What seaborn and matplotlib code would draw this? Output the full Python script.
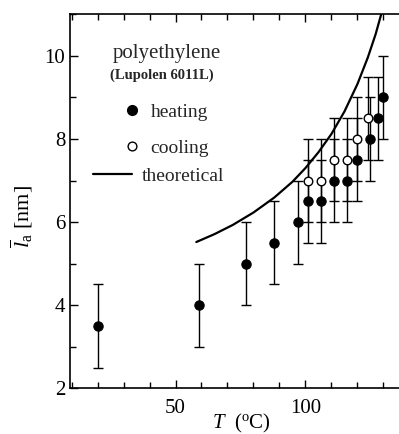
import matplotlib
matplotlib.use("Agg")
import matplotlib.pyplot as plt
import seaborn as sns
import pandas as pd
from matplotlib.lines import Line2D
from matplotlib.ticker import MultipleLocator

# Amorphous layer thickness of polyethylene vs temperature
heat_T = [20, 59, 77, 88, 97, 101, 106, 111, 116, 120, 125, 128, 130]
heat_l = [3.5, 4.0, 5.0, 5.5, 6.0, 6.5, 6.5, 7.0, 7.0, 7.5, 8.0, 8.5, 9.0]
cool_T = [101, 106, 111, 116, 120, 124]
cool_l = [7.0, 7.0, 7.5, 7.5, 8.0, 8.5]
err = 1.0

theo_T = [58, 65, 72, 80, 88, 95, 100, 105, 110, 115, 120, 124, 127, 130]
theo_l = [5.52, 5.71, 5.93, 6.23, 6.59, 6.97, 7.30, 7.68, 8.12, 8.66, 9.32, 9.96, 10.52, 11.19]

sns.set_theme(style="ticks")
plt.rcParams["font.family"] = ["Liberation Serif", "DejaVu Serif"]
plt.rcParams["mathtext.fontset"] = "custom"
plt.rcParams["mathtext.rm"] = "Liberation Serif"
plt.rcParams["mathtext.it"] = "Liberation Serif:italic"

heat = pd.DataFrame({"T": heat_T, "l": heat_l})
cool = pd.DataFrame({"T": cool_T, "l": cool_l})
theo = pd.DataFrame({"T": theo_T, "l": theo_l})

fig = plt.figure(figsize=(3.99, 4.34), dpi=100)
ax = fig.add_axes([70 / 399, 1 - 388.3 / 434, 329 / 399, (388.3 - 14.3) / 434])

bar_kw = dict(fmt="none", ecolor="black", elinewidth=1.0, capsize=3.5, capthick=1.0)
ax.errorbar(heat["T"], heat["l"], yerr=err, zorder=2, **bar_kw)
ax.errorbar(cool["T"], cool["l"], yerr=err, zorder=2, **bar_kw)

sns.lineplot(data=theo, x="T", y="l", color="black", linewidth=1.6, ax=ax, zorder=3)
sns.scatterplot(data=heat, x="T", y="l", color="black", s=45, edgecolor="black",
                linewidth=0.8, ax=ax, zorder=4)
sns.scatterplot(data=cool, x="T", y="l", color="white", s=38, edgecolor="black",
                linewidth=1.0, ax=ax, zorder=5)

ax.set_xlim(9.4, 136)
ax.set_ylim(2, 11)
ax.xaxis.set_major_locator(MultipleLocator(50))
ax.xaxis.set_minor_locator(MultipleLocator(10))
ax.yaxis.set_major_locator(MultipleLocator(2))
ax.yaxis.set_minor_locator(MultipleLocator(1))
ax.tick_params(which="both", direction="in", top=True, right=False, width=1.0,
               labelsize=15, color="black", labelcolor="black")
ax.tick_params(which="major", length=6)
ax.tick_params(which="minor", length=4)
ax.tick_params(axis="x", pad=8)
for side in ("left", "bottom", "top"):
    ax.spines[side].set_linewidth(1.2)
    ax.spines[side].set_color("black")
ax.spines["right"].set_visible(False)

ax.set_xlabel(r"$T$  ($^{\rm o}$C)", fontsize=15, color="black")
ax.set_ylabel(r"$\overline{l}_{\rm a}$ [nm]", fontsize=16, color="black")
ax.xaxis.set_label_coords(0.52, -0.062)
ax.yaxis.set_label_coords(-0.105, 0.46)

ax.text(0.13, 0.895, "polyethylene", transform=ax.transAxes, fontsize=15,
        ha="left", va="center")
ax.text(0.123, 0.838, "(Lupolen 6011L)", transform=ax.transAxes, fontsize=10.5,
        fontweight="bold", ha="left", va="center")

pts = [Line2D([], [], marker="o", ls="none", color="black", markersize=7),
       Line2D([], [], marker="o", ls="none", markerfacecolor="white",
              markeredgecolor="black", markersize=6.3)]
leg1 = ax.legend(pts, ["heating", "cooling"], loc="upper left",
                 bbox_to_anchor=(0.165, 0.762), frameon=False, fontsize=14,
                 handlelength=0.8, handletextpad=0.55, labelspacing=0.95,
                 borderaxespad=0, borderpad=0)
ax.add_artist(leg1)
ax.legend([Line2D([], [], color="black", lw=1.6)], ["theoretical"], loc="upper left",
          bbox_to_anchor=(0.07, 0.59), frameon=False, fontsize=14,
          handlelength=2.0, handletextpad=0.5, borderaxespad=0, borderpad=0)

fig.savefig("out.png", dpi=100)
